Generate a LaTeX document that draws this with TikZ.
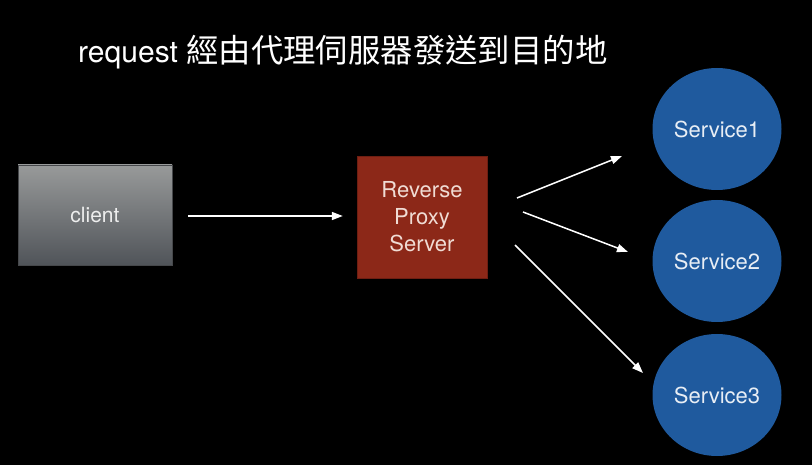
\documentclass[tikz,border=0pt]{standalone}
\usepackage{fontspec}
\setmainfont{TeX Gyre Heros}
\newfontfamily\cjk[Scale=1.08]{Noto Sans CJK TC}
\usetikzlibrary{arrows.meta,shapes.geometric}
\definecolor{clienttop}{RGB}{152,154,154}
\definecolor{clientbot}{RGB}{80,84,89}
\definecolor{proxyred}{RGB}{140,40,24}
\definecolor{serviceblue}{RGB}{31,90,158}
\tikzset{
    client-box/.style = {draw={rgb,255:red,70;green,72;blue,75}, thin, rectangle, top color=clienttop, bottom color=clientbot, minimum width=154pt, minimum height=100pt, text={rgb,255:red,238;green,238;blue,238}, font=\fontsize{21pt}{25pt}\selectfont},
    proxy-box/.style = {draw={rgb,255:red,110;green,30;blue,18}, thin, rectangle, fill=proxyred, minimum width=130pt, minimum height=122pt, align=center, text={rgb,255:red,240;green,220;blue,212}, font=\fontsize{22pt}{27pt}\selectfont},
    service/.style = {ellipse, fill=serviceblue, minimum width=129pt, minimum height=122pt, inner sep=0pt, text={rgb,255:red,232;green,238;blue,245}, font=\fontsize{22pt}{26pt}\selectfont},
    flow/.style = {draw=white, line width=1.5pt, -{Triangle[length=11pt,width=8pt]}},
}
\begin{document}
\begin{tikzpicture}[x=1pt,y=-1pt]
\fill[black] (0,0) rectangle (812,465);
\useasboundingbox (0,0) rectangle (812,465);
% title
\node[anchor=base west, text=white, inner sep=0pt, font=\fontsize{30pt}{34pt}\selectfont] (title) at (78,63) {request {\cjk 經由代理伺服器發送到目的地}};
% boxes
\node[client-box] (client) at (95,215) {client};
\node[proxy-box] (proxy) at (422,217) {Reverse\\Proxy\\Server};
\node[service] (s1) at (717,129) {Service1};
\node[service] (s2) at (717,261) {Service2};
\node[service] (s3) at (717,395) {Service3};
% arrows
\draw[flow, shorten <=16pt, shorten >=14pt] (client.east |- 0,216) -- (proxy.west |- 0,216);
\coordinate (p1) at (517,198);
\coordinate (p2) at (523,212);
\coordinate (p3) at (515,245);
\coordinate (e1) at (622,156);
\coordinate (e2) at (628,252);
\coordinate (e3) at (643,373);
\draw[flow] (p1) -- (e1);
\draw[flow] (p2) -- (e2);
\draw[flow] (p3) -- (e3);
\end{tikzpicture}
\end{document}
